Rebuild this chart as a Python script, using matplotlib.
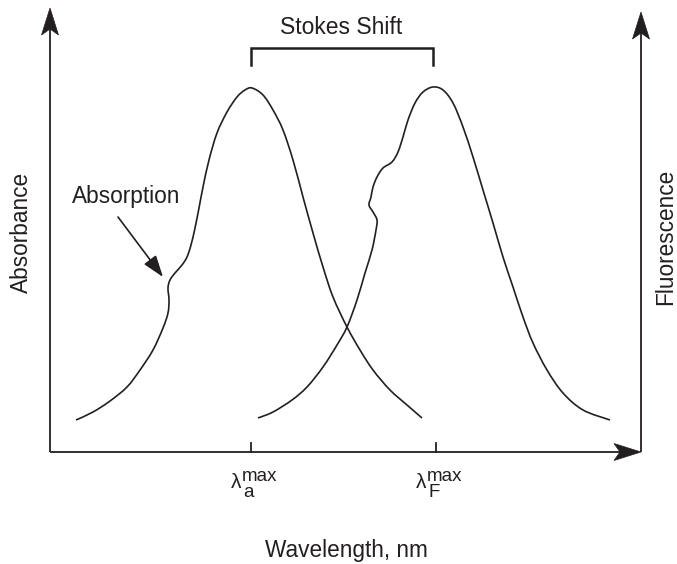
import matplotlib
matplotlib.use("Agg")
import matplotlib.pyplot as plt
import numpy as np
from matplotlib.path import Path
from matplotlib.patches import PathPatch, Polygon

plt.rcParams["font.family"] = ["Liberation Sans", "DejaVu Sans"]

# Schematic spectra in canvas units (x right, y down)
absorption_x = [76, 93, 110, 127, 140, 153, 163, 168, 169, 168, 170, 175, 182, 187, 191,
                195, 199, 203, 209, 217, 227, 237, 245, 252,
                263, 273, 283, 293, 303, 313, 323, 333, 347, 360, 373, 390, 407, 422]
absorption_y = [420, 412, 401, 387, 370, 350, 328, 313, 300, 288, 280, 273, 265, 257, 245,
                228, 208, 187, 160, 133, 112, 97, 90, 88,
                95, 110, 130, 160, 197, 233, 267, 297, 327, 350, 370, 390, 405, 418]

fluorescence_x = [258, 273, 292, 307, 323, 337, 347, 357, 365, 372, 376, 377, 373, 369,
                  371, 373, 377, 383, 392, 398, 403, 408, 415, 423, 433,
                  443, 453, 463, 473, 483, 493, 503, 513, 523, 533, 547, 563, 583, 610]
fluorescence_y = [418, 412, 400, 387, 367, 345, 327, 300, 273, 250, 230, 220, 212, 205,
                  197, 187, 177, 168, 162, 152, 137, 120, 103, 92, 87,
                  90, 103, 127, 157, 190, 223, 257, 287, 317, 343, 370, 393, 410, 420]

peak_ticks = [251, 436]
peak_labels = ["a", "F"]

INK = "#231f20"
X0, Y0, XTIP, YTIP_L, YTIP_R = 50, 452, 641, 8, 12


def smooth_path(xs, ys):
    """Catmull-Rom through the read points, drawn as cubic Bezier segments."""
    p = np.column_stack([xs, ys]).astype(float)
    verts, codes = [p[0]], [Path.MOVETO]
    for i in range(len(p) - 1):
        p0 = p[i - 1] if i > 0 else p[i]
        p3 = p[i + 2] if i + 2 < len(p) else p[i + 1]
        c1 = p[i] + (p[i + 1] - p0) / 6
        c2 = p[i + 1] - (p3 - p[i]) / 6
        verts += [c1, c2, p[i + 1]]
        codes += [Path.CURVE4] * 3
    return Path(verts, codes)


def arrowhead(ax, tip, direction, length=27, half_width=8.5, notch=6):
    d = np.asarray(direction, float)
    d /= np.hypot(*d)
    n = np.array([-d[1], d[0]])
    tip = np.asarray(tip, float)
    back = tip - d * length
    pts = [tip, back + n * half_width, tip - d * (length - notch), back - n * half_width]
    ax.add_patch(Polygon(pts, closed=True, fc=INK, ec=INK, lw=0.5))


fig = plt.figure(figsize=(6.77, 5.64), dpi=100)
ax = fig.add_axes([0, 0, 1, 1])
ax.set_xlim(0, 677)
ax.set_ylim(564, 0)
ax.axis("off")

# axes with arrows
ax.plot([X0, X0], [Y0, YTIP_L + 20], color=INK, lw=1.3, solid_capstyle="butt")
arrowhead(ax, (X0, YTIP_L), (0, -1))
ax.plot([X0, XTIP - 20], [Y0, Y0], color=INK, lw=1.3, solid_capstyle="butt")
arrowhead(ax, (XTIP, Y0), (1, 0))
ax.plot([XTIP, XTIP], [Y0, YTIP_R + 20], color=INK, lw=1.3, solid_capstyle="butt")
arrowhead(ax, (XTIP, YTIP_R), (0, -1))

# spectra
for xs, ys in [(absorption_x, absorption_y), (fluorescence_x, fluorescence_y)]:
    ax.add_patch(PathPatch(smooth_path(xs, ys), fc="none", ec=INK, lw=1.2))

# peak ticks and lambda labels
for xt, sub in zip(peak_ticks, peak_labels):
    ax.plot([xt, xt], [Y0 - 9, Y0], color=INK, lw=1.3)
    ax.text(xt - 10, 488, "λ", fontsize=15, ha="right", va="baseline", color=INK)
    ax.text(xt - 9, 481, "max", fontsize=13.5, ha="left", va="baseline", color=INK)
    ax.text(xt - 8, 497, sub, fontsize=13.5, ha="left", va="baseline", color=INK)

# Stokes shift bracket
ax.plot([peak_ticks[0], peak_ticks[0], peak_ticks[1] - 3, peak_ticks[1] - 3],
        [65, 48, 48, 65], color=INK, lw=1.8, solid_joinstyle="miter")
ax.text(341, 34, "Stokes Shift", fontsize=16.5, ha="center", va="baseline", color=INK)

# Absorption callout
ax.annotate("", xy=(163, 277), xytext=(118, 217),
            arrowprops=dict(arrowstyle="-|>,head_length=1.1,head_width=0.38",
                            mutation_scale=12, color=INK, lw=1.2, shrinkA=0, shrinkB=0))
ax.text(126, 196, "Absorption", fontsize=16.3, ha="center", va="center", color=INK)

# axis labels
ax.text(346, 550, "Wavelength, nm", fontsize=16.3, ha="center", va="center", color=INK)
ax.text(21, 232, "Absorbance", fontsize=16.3, rotation=90, ha="center", va="center", color=INK)
ax.text(666, 237, "Fluorescence", fontsize=16.3, rotation=90, ha="center", va="center", color=INK)

fig.savefig("out.png", dpi=100)
